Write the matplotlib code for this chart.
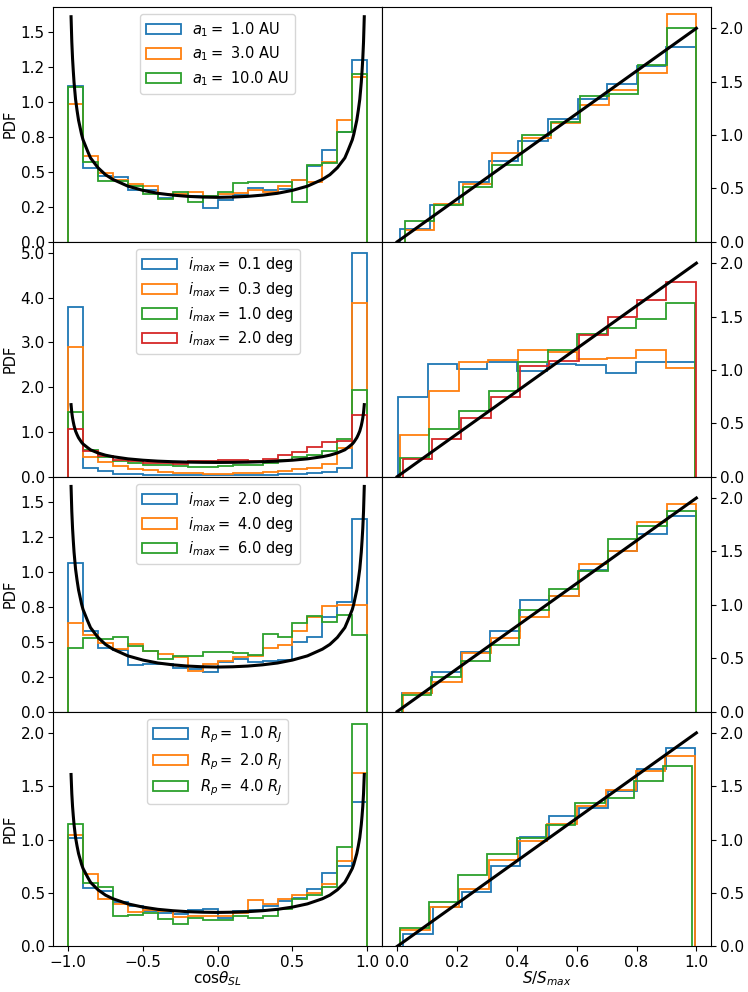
"""
Spin-orbit angle and S/S_max distributions, four parameter sweeps.
Left column: PDF of cos(theta_SL); right column: PDF of S/S_max.
"""
import numpy as np
import matplotlib
matplotlib.use("Agg")
import matplotlib.pyplot as plt
from matplotlib.ticker import FormatStrFormatter

# -------------------
# Data
# -------------------
cos_edges = np.linspace(-1.0, 1.0, 21)

# theory curve for cos(theta_SL), same in every row
curve_x = [-0.98, -0.975, -0.97, -0.965, -0.96, -0.95, -0.94, -0.93, -0.91, -0.9,
           -0.87, -0.85, -0.8, -0.75, -0.7, -0.6, -0.5, -0.4, -0.3, -0.2, -0.1, 0.0,
           0.1, 0.2, 0.3, 0.4, 0.5, 0.6, 0.7, 0.75, 0.8, 0.85, 0.87,
           0.9, 0.91, 0.93, 0.94, 0.95, 0.96, 0.965, 0.97, 0.975, 0.98]
curve_y = [1.61, 1.43, 1.31, 1.22, 1.14, 1.02, 0.94, 0.87, 0.77, 0.73,
           0.65, 0.60, 0.53, 0.48, 0.446, 0.398, 0.368, 0.347, 0.334, 0.325, 0.320, 0.318,
           0.320, 0.325, 0.334, 0.347, 0.368, 0.398, 0.446, 0.48, 0.53, 0.60, 0.65,
           0.73, 0.77, 0.87, 0.94, 1.02, 1.14, 1.22, 1.31, 1.43, 1.61]

# theory line for S/S_max
line_x = [0.0, 1.0]
line_y = [0.0, 2.0]

# row 1: semi-major axis a_1
a1_labels = [r"$a_1 = $ 1.0 AU", r"$a_1 = $ 3.0 AU", r"$a_1 = $ 10.0 AU"]
a1_cos = [
    [1.117, 0.529, 0.469, 0.462, 0.374, 0.369, 0.314, 0.338, 0.326, 0.243,
     0.302, 0.338, 0.386, 0.374, 0.379, 0.445, 0.545, 0.655, 0.783, 1.298],
    [0.986, 0.612, 0.495, 0.445, 0.414, 0.398, 0.345, 0.345, 0.355, 0.321,
     0.345, 0.350, 0.369, 0.357, 0.398, 0.445, 0.429, 0.571, 0.869, 1.179],
    [1.107, 0.571, 0.438, 0.438, 0.402, 0.345, 0.307, 0.357, 0.286, 0.326,
     0.355, 0.421, 0.426, 0.426, 0.426, 0.286, 0.550, 0.562, 0.783, 1.2],
]
a1_s_range = [(0.009, 0.999), (0.026, 1.0), (0.026, 1.0)]
a1_s = [
    [0.12, 0.345, 0.556, 0.757, 0.948, 1.152, 1.334, 1.479, 1.645, 1.824],
    [0.107, 0.358, 0.546, 0.835, 0.973, 1.115, 1.284, 1.425, 1.582, 2.13],
    [0.195, 0.345, 0.515, 0.72, 1.0, 1.125, 1.37, 1.38, 1.655, 2.0],
]

# row 2: small maximum inclinations
imax_lo_labels = [r"$i_{max} = $ 0.1 deg", r"$i_{max} = $ 0.3 deg",
                  r"$i_{max} = $ 1.0 deg", r"$i_{max} = $ 2.0 deg"]
imax_lo_cos = [
    [3.80, 0.20, 0.12, 0.07, 0.05, 0.04, 0.035, 0.03, 0.03, 0.03,
     0.03, 0.03, 0.03, 0.035, 0.05, 0.07, 0.09, 0.11, 0.20, 5.0],
    [2.90, 0.45, 0.33, 0.24, 0.18, 0.14, 0.11, 0.09, 0.09, 0.07,
     0.07, 0.075, 0.09, 0.10, 0.13, 0.16, 0.20, 0.29, 0.65, 3.88],
    [1.455, 0.60, 0.44, 0.35, 0.30, 0.27, 0.25, 0.24, 0.22, 0.21,
     0.24, 0.26, 0.27, 0.30, 0.37, 0.43, 0.49, 0.58, 0.84, 1.93],
    [1.06, 0.575, 0.46, 0.37, 0.35, 0.31, 0.30, 0.29, 0.35, 0.34,
     0.37, 0.37, 0.35, 0.39, 0.48, 0.54, 0.66, 0.78, 0.80, 1.37],
]
imax_lo_s_range = [(0.002, 0.997), (0.008, 0.997), (0.009, 0.997), (0.019, 0.998)]
imax_lo_s = [
    [0.75, 1.053, 1.006, 1.075, 0.99, 1.053, 1.05, 0.97, 1.075, 1.07],
    [0.39, 0.80, 1.07, 1.09, 1.19, 1.17, 1.10, 1.11, 1.19, 1.02],
    [0.175, 0.45, 0.615, 0.80, 1.07, 1.19, 1.34, 1.39, 1.48, 1.625],
    [0.1625, 0.356, 0.55, 0.75, 1.0375, 1.08, 1.33, 1.5, 1.656, 1.825],
]

# row 3: larger maximum inclinations
imax_hi_labels = [r"$i_{max} = $ 2.0 deg", r"$i_{max} = $ 4.0 deg",
                  r"$i_{max} = $ 6.0 deg"]
imax_hi_cos = [
    [1.062, 0.576, 0.452, 0.438, 0.333, 0.338, 0.338, 0.314, 0.302, 0.286,
     0.355, 0.374, 0.357, 0.362, 0.369, 0.498, 0.533, 0.676, 0.783, 1.379],
    [0.636, 0.545, 0.493, 0.45, 0.481, 0.433, 0.414, 0.39, 0.29, 0.343,
     0.362, 0.393, 0.398, 0.452, 0.474, 0.576, 0.676, 0.755, 0.762, 0.762],
    [0.457, 0.529, 0.517, 0.533, 0.469, 0.433, 0.379, 0.398, 0.398, 0.426,
     0.429, 0.421, 0.405, 0.552, 0.533, 0.631, 0.683, 0.64, 0.69, 0.548],
]
imax_hi_s_range = [(0.017, 0.999), (0.019, 0.999), (0.015, 0.999)]
imax_hi_s = [
    [0.169, 0.366, 0.553, 0.756, 1.044, 1.084, 1.325, 1.5, 1.6625, 1.834],
    [0.175, 0.281, 0.544, 0.684, 0.89, 1.084, 1.381, 1.5, 1.778, 1.944],
    [0.153, 0.319, 0.475, 0.622, 0.953, 1.147, 1.319, 1.616, 1.74, 1.881],
]

# row 4: planet radius
rp_labels = [r"$R_p = $ 1.0 $R_J$", r"$R_p = $ 2.0 $R_J$", r"$R_p = $ 4.0 $R_J$"]
rp_cos = [
    [1.019, 0.545, 0.514, 0.42, 0.38, 0.327, 0.312, 0.305, 0.343, 0.352,
     0.265, 0.327, 0.343, 0.38, 0.427, 0.45, 0.54, 0.69, 0.754, 1.349],
    [1.047, 0.676, 0.442, 0.396, 0.318, 0.343, 0.327, 0.274, 0.287, 0.28,
     0.287, 0.312, 0.43, 0.40, 0.44, 0.48, 0.50, 0.586, 0.804, 1.626],
    [1.143, 0.59, 0.56, 0.287, 0.296, 0.31, 0.255, 0.21, 0.265, 0.243,
     0.243, 0.287, 0.265, 0.287, 0.35, 0.44, 0.48, 0.56, 0.935, 2.087],
]
rp_s_range = [(0.021, 0.997), (0.010, 0.994), (0.008, 0.987)]
rp_s = [
    [0.119, 0.369, 0.506, 0.75, 1.022, 1.219, 1.297, 1.459, 1.6625, 1.859],
    [0.15, 0.366, 0.5375, 0.806, 0.984, 1.147, 1.3125, 1.4625, 1.647, 1.781],
    [0.172, 0.416, 0.666, 0.866, 1.016, 1.14, 1.344, 1.3875, 1.553, 1.694],
]

rows = [
    (a1_labels, a1_cos, a1_s_range, a1_s, 1.68),
    (imax_lo_labels, imax_lo_cos, imax_lo_s_range, imax_lo_s, 5.25),
    (imax_hi_labels, imax_hi_cos, imax_hi_s_range, imax_hi_s, 1.68),
    (rp_labels, rp_cos, rp_s_range, rp_s, 2.2),
]

# -------------------
# Plot
# -------------------
plt.rcParams["font.size"] = 11
plt.rcParams["legend.fontsize"] = 10.5
plt.rcParams["xtick.major.pad"] = 2.5
plt.rcParams["ytick.major.pad"] = 2.5

fig, axes = plt.subplots(4, 2, sharex="col", figsize=(7.48, 9.92), dpi=100)
fig.subplots_adjust(left=0.071, right=0.951, top=0.993, bottom=0.046,
                    hspace=0, wspace=0)

cos_centers = 0.5 * (cos_edges[:-1] + cos_edges[1:])

for r, (labels, cos_vals, s_ranges, s_vals, ytop) in enumerate(rows):
    ax_l, ax_r = axes[r]

    # left: cos(theta_SL)
    for k, (lab, h) in enumerate(zip(labels, cos_vals)):
        ax_l.hist(cos_centers, bins=cos_edges, weights=h, histtype="step",
                  color=f"C{k}", lw=1.3, label=lab)
    ax_l.plot(curve_x, curve_y, color="k", lw=2.2)
    ax_l.set_ylim(0, ytop)
    ax_l.set_ylabel("PDF", fontsize=10.5, labelpad=2)
    ax_l.yaxis.set_major_formatter(FormatStrFormatter("%.1f"))
    ax_l.legend(loc="upper center", handlelength=2.4, labelspacing=0.4)

    # right: S/S_max
    for k, ((lo, hi), h) in enumerate(zip(s_ranges, s_vals)):
        edges = np.linspace(lo, hi, len(h) + 1)
        centers = 0.5 * (edges[:-1] + edges[1:])
        ax_r.hist(centers, bins=edges, weights=h, histtype="step",
                  color=f"C{k}", lw=1.3)
    ax_r.plot(line_x, line_y, color="k", lw=2.2)
    ax_r.set_ylim(0, 2.2)
    ax_r.yaxis.tick_right()
    ax_r.yaxis.set_major_formatter(FormatStrFormatter("%.1f"))

axes[-1, 0].set_xlabel(r"$\mathrm{cos}\theta_{SL}$", labelpad=0)
axes[-1, 1].set_xlabel(r"$S/S_{max}$", labelpad=0)

fig.savefig("out.png")
